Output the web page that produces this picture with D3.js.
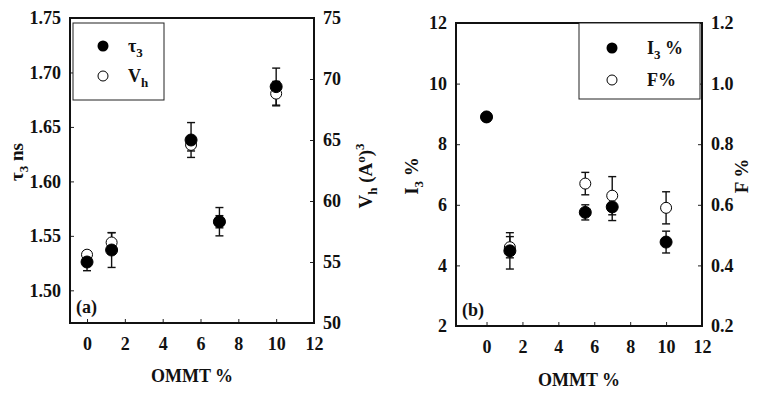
<!DOCTYPE html>
<html>
<head>
<meta charset="utf-8">
<script src="https://cdn.jsdelivr.net/npm/d3@7"></script>
<style>
  body { margin: 0; background: #fff; }
  text { font-family: "Liberation Serif", "Times New Roman", serif; font-weight: bold; fill: #111; }
</style>
</head>
<body>
<div id="chart"></div>
<script>
// OMMT loading (%) shared by both panels
var ommt = [0, 1.3, 5.5, 7, 10];

// panel (a)
var tau3 = [1.526, 1.537, 1.638, 1.563, 1.687];
var tau3Err = [0.008, 0.016, 0.016, 0.013, 0.017];
var vh = [55.6, 56.6, 64.6, 58.3, 68.8];
var vhErr = [0.3, 0.8, 0.5, 0.5, 1.0];

// panel (b)
var i3 = [8.9, 4.48, 5.75, 5.93, 4.77];
var i3Err = [0.1, 0.6, 0.25, 0.45, 0.36];
var fPct = [0.89, 0.46, 0.67, 0.63, 0.59];
var fErr = [0.01, 0.035, 0.037, 0.063, 0.053];

var xTicks = [0, 2, 4, 6, 8, 10, 12];
var tauTicks = [1.50, 1.55, 1.60, 1.65, 1.70, 1.75];
var vhTicks = [50, 55, 60, 65, 70, 75];
var i3Ticks = [2, 4, 6, 8, 10, 12];
var fTicks = [0.2, 0.4, 0.6, 0.8, 1.0, 1.2];

var svg = d3.select('#chart').append('svg')
    .attr('width', 760)
    .attr('height', 397);

var fs = 18;
var r = 6;

// draws one panel: frame, axes, error bars, markers
function drawPanel(p) {
    var g = svg.append('g');

    var x = d3.scaleLinear().domain(p.xDomain).range([p.left, p.right]);
    var yL = d3.scaleLinear().domain(p.yLDomain).range([p.bottom, p.top]);
    var yR = d3.scaleLinear().domain(p.yRDomain).range([p.bottom, p.top]);

    var bottomAxis = d3.axisBottom(x).tickValues(xTicks).tickSize(-4).tickPadding(14)
        .tickFormat(d3.format('d'));
    var leftAxis = d3.axisLeft(yL).tickValues(p.yLTicks).tickSize(-4).tickPadding(9)
        .tickFormat(p.yLFormat);
    var rightAxis = d3.axisRight(yR).tickValues(p.yRTicks).tickSize(-4).tickPadding(9)
        .tickFormat(p.yRFormat);

    var ax = [
        g.append('g').attr('transform', `translate(0, ${p.bottom})`).call(bottomAxis),
        g.append('g').attr('transform', `translate(${p.left}, 0)`).call(leftAxis),
        g.append('g').attr('transform', `translate(${p.right}, 0)`).call(rightAxis)
    ];
    ax.forEach(a => {
        a.select('.domain').remove();
        a.selectAll('line').attr('stroke', '#222').attr('stroke-width', 1);
        a.selectAll('text').attr('font-size', fs).attr('font-family', null).attr('fill', '#111');
    });

    // frame
    g.append('rect')
        .attr('x', p.left).attr('y', p.top)
        .attr('width', p.right - p.left).attr('height', p.bottom - p.top)
        .attr('fill', 'none').attr('stroke', '#111').attr('stroke-width', 2);

    // legend box
    g.append('rect')
        .attr('x', p.leg.x).attr('y', p.leg.y)
        .attr('width', p.leg.w).attr('height', p.leg.h)
        .attr('fill', '#fff').attr('stroke', '#222').attr('stroke-width', 1);

    g.append('circle').attr('cx', p.leg.mx).attr('cy', p.leg.y1).attr('r', 5.5).attr('fill', '#000');
    g.append('circle').attr('cx', p.leg.mx).attr('cy', p.leg.y2).attr('r', 5).attr('fill', '#fff')
        .attr('stroke', '#000').attr('stroke-width', 1);

    var t1 = g.append('text').attr('x', p.leg.tx).attr('y', p.leg.y1 + 6).attr('font-size', fs);
    p.leg.label1(t1);
    var t2 = g.append('text').attr('x', p.leg.tx).attr('y', p.leg.y2 + 6).attr('font-size', fs);
    p.leg.label2(t2);

    // error bars, hollow series first, filled series on top
    var series = [
        {vals: p.openVals, errs: p.openErrs, y: yR, fill: '#fff'},
        {vals: p.fillVals, errs: p.fillErrs, y: yL, fill: '#000'}
    ];
    series.forEach(s => {
        var eb = g.append('g');
        ommt.forEach((o, i) => {
            var cx = x(o);
            var y1 = s.y(s.vals[i] + s.errs[i]);
            var y2 = s.y(s.vals[i] - s.errs[i]);
            eb.append('line').attr('x1', cx).attr('x2', cx).attr('y1', y1).attr('y2', y2)
                .attr('stroke', '#111').attr('stroke-width', 1.4);
            [y1, y2].forEach(yy => {
                eb.append('line').attr('x1', cx - 4).attr('x2', cx + 4).attr('y1', yy).attr('y2', yy)
                    .attr('stroke', '#111').attr('stroke-width', 1.4);
            });
        });
    });
    series.forEach(s => {
        g.append('g').selectAll('circle')
            .data(ommt)
            .enter()
            .append('circle')
            .attr('cx', (d) => x(d))
            .attr('cy', (d, i) => s.y(s.vals[i]))
            .attr('r', s.fill === '#000' ? r : r - 0.5)
            .attr('fill', s.fill)
            .attr('stroke', '#000')
            .attr('stroke-width', 1);
    });

    // panel tag
    g.append('text').attr('x', p.left + 6).attr('y', p.bottom - 10)
        .attr('font-size', fs).text(p.tag);

    // x title
    g.append('text').attr('x', (p.left + p.right) / 2).attr('y', p.xTitleY)
        .attr('text-anchor', 'middle').attr('font-size', fs).text('OMMT %');

    // y titles
    var lt = g.append('text')
        .attr('transform', `translate(${p.yLTitleX}, ${p.yLTitleY}) rotate(-90)`)
        .attr('text-anchor', 'middle').attr('font-size', 19);
    p.yLTitle(lt);
    var rt = g.append('text')
        .attr('transform', `translate(${p.yRTitleX}, ${p.yRTitleY}) rotate(-90)`)
        .attr('text-anchor', 'middle').attr('font-size', 19);
    p.yRTitle(rt);
}

function sub(t, main, s, after) {
    t.append('tspan').text(main);
    t.append('tspan').attr('dy', 5).attr('font-size', 13).text(s);
    if (after) t.append('tspan').attr('dy', -5).text(after);
}

drawPanel({
    left: 70, right: 314, top: 18, bottom: 323,
    xDomain: [-0.9, 12],
    yLDomain: [1.47, 1.75], yRDomain: [50, 75],
    yLTicks: tauTicks, yRTicks: vhTicks,
    yLFormat: d3.format('.2f'), yRFormat: d3.format('d'),
    fillVals: tau3, fillErrs: tau3Err,
    openVals: vh, openErrs: vhErr,
    tag: '(a)',
    xTitleY: 382,
    yLTitleY: 162, yRTitleY: 176, yLTitleX: 23, yRTitleX: 372,
    yLTitle: t => sub(t, 'τ', '3', ' ns'),
    yRTitle: t => {
        t.append('tspan').text('V');
        t.append('tspan').attr('dy', 5).attr('font-size', 13).text('h');
        t.append('tspan').attr('dy', -5).text(' (A');
        t.append('tspan').attr('dy', -7).attr('font-size', 13).text('o');
        t.append('tspan').attr('dy', 7).text(')');
        t.append('tspan').attr('dy', -8).attr('font-size', 13).text('3');
    },
    leg: {
        x: 73, y: 23, w: 91, h: 77, mx: 103, tx: 128, y1: 46, y2: 76,
        label1: t => sub(t, 'τ', '3'),
        label2: t => sub(t, 'V', 'h')
    }
});

drawPanel({
    left: 456, right: 702, top: 23, bottom: 326,
    xDomain: [-1.7, 12],
    yLDomain: [2, 12], yRDomain: [0.2, 1.2],
    yLTicks: i3Ticks, yRTicks: fTicks,
    yLFormat: d3.format('d'), yRFormat: d3.format('.1f'),
    fillVals: i3, fillErrs: i3Err,
    openVals: fPct, openErrs: fErr,
    tag: '(b)',
    xTitleY: 386,
    yLTitleY: 176, yRTitleY: 176, yLTitleX: 418, yRTitleX: 748,
    yLTitle: t => sub(t, 'I', '3', ' %'),
    yRTitle: t => t.text('F %'),
    leg: {
        x: 579, y: 23, w: 121, h: 76, mx: 612, tx: 647, y1: 48, y2: 80,
        label1: t => sub(t, 'I', '3', ' %'),
        label2: t => t.text('F%')
    }
});
</script>
</body>
</html>
